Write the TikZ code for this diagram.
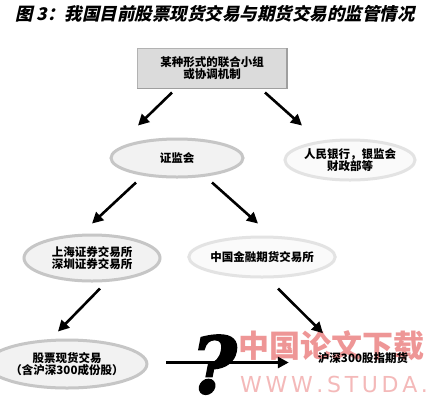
\documentclass[tikz,border=0pt]{standalone}
\usepackage{fontspec}
\newfontfamily\cjk{Noto Sans CJK SC}
\newfontfamily\cjkslant[FakeSlant=0.22]{Noto Sans CJK SC}
\newfontfamily\qfont[BoldItalicFeatures={FakeBold=2.5}]{DejaVu Serif}
\setsansfont{DejaVu Sans}
\usetikzlibrary{shapes.geometric,arrows.meta,calc}
\definecolor{wmred}{RGB}{238,150,150}
\definecolor{wmred2}{RGB}{244,185,185}
\tikzset{
  lbl/.style={font=\cjk\bfseries\fontsize{11.5}{12.5}\selectfont, align=center, text=black},
  oval/.style={ellipse, draw=gray!45, line width=3pt, fill=gray!10, lbl, inner sep=0pt},
  faintoval/.style={ellipse, draw=gray!22, line width=3pt, fill=gray!4, lbl, inner sep=0pt},
  topbox/.style={rectangle, draw=gray!60, line width=1pt, fill=gray!28, lbl, inner sep=0pt},
  arr/.style={line width=2.6pt, -{Triangle[length=11pt,width=11pt]}},
  wm/.style={inner sep=0pt}
}
\begin{document}
\begin{tikzpicture}[x=1pt,y=-1pt]
\useasboundingbox (0,0) rectangle (428,400);
\fill[white] (0,0) rectangle (428,400);
% title
\node[inner sep=0pt, font=\cjkslant\bfseries\fontsize{17.5}{18}\selectfont] (title) at (215,14) {图~3：我国目前股票现货交易与期货交易的监管情况};
% watermark
\node[wm, text=wmred, font=\cjk\bfseries\fontsize{31}{31}\selectfont] (wm1) at (331,346) {中国论文下载};
\node[wm, text=wmred2, font=\sffamily\fontsize{22}{22}\selectfont, anchor=west] (wm2) at (240,384) {W\,W\,W\,.\,S\,T\,U\,D\,A\,.};
% nodes
\node[topbox, minimum width=149pt, minimum height=40pt] (box) at (212,68) {某种形式的联合小组\\或协调机制};
\draw[gray!75, line width=1.5pt] (box.south west) -- (box.south east) -- (box.north east);
\node[oval, minimum width=132pt, minimum height=38pt] (zjh) at (177,158) {证监会};
\node[faintoval, minimum width=130pt, minimum height=40pt] (rm) at (350,160) {人民银行，银监会\\财政部等};
\node[oval, minimum width=136pt, minimum height=46pt] (sz) at (92,258) {上海证券交易所\\深圳证券交易所};
\node[faintoval, minimum width=136pt, minimum height=40pt] (zj) at (262,257) {中国金融期货交易所};
\node[oval, minimum width=126pt, minimum height=48pt] (gp) at (67,364) {股票现货交易\\（含沪深300成份股）};
\node[lbl, inner sep=0pt] (hs) at (363,358) {沪深300股指期货};
% connectors
\draw[arr] ($(box.south)+(-40,4)$) -- ($(zjh.north)+(-39,-12)$);
\draw[arr] ($(box.south)+(53,4)$) -- ($(rm.north)+(-48,-13)$);
\draw[arr] ($(zjh.south)+(-41,4)$) -- ($(sz.north)+(0,-10)$);
\draw[arr] ($(zjh.south)+(35,4)$) -- ($(zj.north)+(-4,-12)$);
\draw[arr] ($(sz.south)+(8,6)$) -- ($(gp.north)+(-9,-7)$);
\draw[arr] ($(zj.south)+(16,10)$) -- ($(hs.north)+(-40,-19)$);
\draw[arr, line width=3.2pt] ($(gp.east)+(18,-1.5)$) -- ($(hs.west)+(-29,4.5)$);
\node[inner sep=0pt, anchor=base, font=\qfont\bfseries\itshape\fontsize{78}{78}\selectfont] (q) at (214,393) {?};
\end{tikzpicture}
\end{document}
